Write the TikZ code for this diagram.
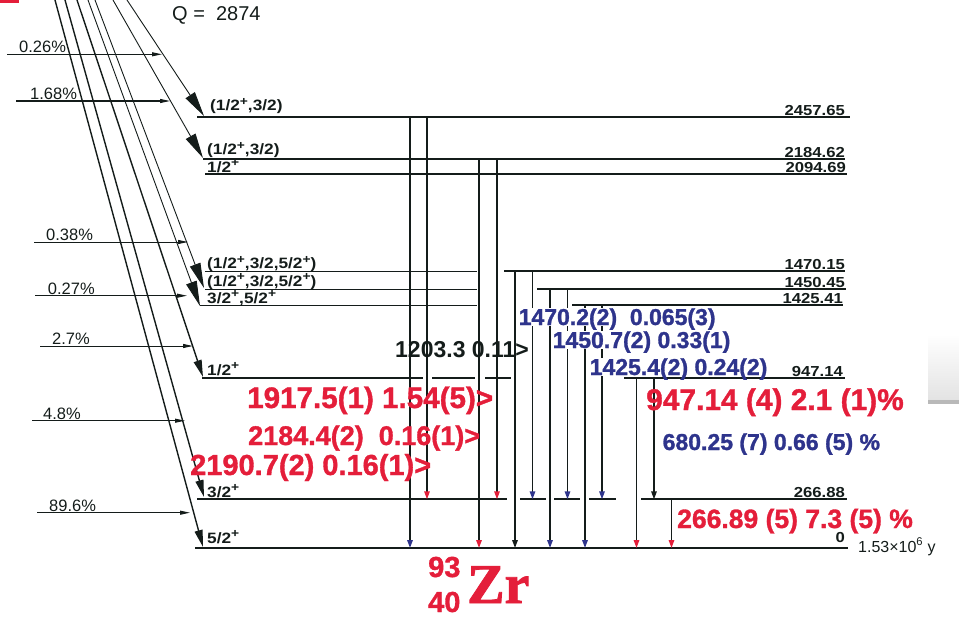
\documentclass[tikz,border=0pt]{standalone}
\usepackage{fontspec}
\setmainfont{Liberation Sans}
\newfontfamily\levelfont[FakeStretch=1.15]{Liberation Sans}
\newfontfamily\heavyfont[BoldFeatures={FakeBold=1.2}]{Liberation Sans}
\newfontfamily\nuclidefont[BoldFeatures={FakeBold=1.5}]{Liberation Serif}
\usetikzlibrary{arrows.meta}
\definecolor{trred}{RGB}{228,30,58}
\definecolor{trblue}{RGB}{46,52,140}
\definecolor{lineblack}{RGB}{20,28,26}
\newcommand\spplus{\raisebox{.36em}{\fontsize{12}{12}\selectfont+}}

\tikzset{
  level/.style={draw=lineblack, line width=1.7pt},
  thinlevel/.style={draw=lineblack, line width=0.8pt},
  feedbig/.style={draw=lineblack, line width=0.9pt, -{Triangle[length=25pt,width=11pt]}},
  feedsmall/.style={draw=lineblack, line width=1.4pt, -{Triangle[length=17pt,width=8pt]}},
  branch/.style={draw=lineblack, line width=1pt, -{Triangle[length=10pt,width=4pt]}},
  trans/.style={draw=lineblack, line width=1.5pt},
  tored/.style={trans, -{Triangle[length=8pt,width=5.5pt,color=trred]}},
  toblue/.style={trans, -{Triangle[length=8pt,width=5.5pt,color=trblue]}},
  toblack/.style={trans, -{Triangle[length=8pt,width=5.5pt]}},
  spin/.style={anchor=base west, inner sep=0pt, text=lineblack,
    font=\levelfont\bfseries\fontsize{15}{15}\selectfont},
  energy/.style={anchor=base east, inner sep=0pt, text=lineblack,
    font=\levelfont\bfseries\fontsize{14.5}{14.5}\selectfont},
  pct/.style={anchor=base west, inner sep=0pt, text=lineblack,
    font=\fontsize{16.5}{16.5}\selectfont},
  gred/.style={anchor=base west, inner sep=0pt, text depth=0pt, text=trred,
    font=\heavyfont\bfseries\fontsize{29}{29}\selectfont},
  gblue/.style={anchor=base west, inner sep=0.5pt, text depth=0pt, fill=white, text=trblue,
    font=\heavyfont\bfseries\fontsize{23}{23}\selectfont},
  gblack/.style={anchor=base west, inner sep=0pt, text=lineblack,
    font=\bfseries\fontsize{23}{23}\selectfont},
}

\begin{document}
\begin{tikzpicture}[x=1pt,y=-1pt]
    \useasboundingbox (0,0) rectangle (959,618);

    % Метки
    \fill[trred] (0,0) rectangle (19,3);
    \shade[top color=white, bottom color=gray!22] (928,334) rectangle (959,400);
    \fill[gray!55] (928,400) rectangle (959,404);

    % Уровни
    \coordinate (L2457) at (0,117);
    \coordinate (L2184) at (0,158.7);
    \coordinate (L2094) at (0,174);
    \coordinate (L1470) at (0,271);
    \coordinate (L1450) at (0,289);
    \coordinate (L1425) at (0,305);
    \coordinate (L947) at (0,378);
    \coordinate (L266) at (0,499.3);
    \coordinate (L0) at (0,548);

    \draw[level, line width=1.3pt] (197,0 |- L2457) -- (850,0 |- L2457);
    \draw[level] (203,0 |- L2184) -- (845,0 |- L2184);
    \draw[level] (205,0 |- L2094) -- (847,0 |- L2094);

    \draw[thinlevel] (205,0 |- L1470) -- (477,0 |- L1470);
    \draw[level, line width=1.5pt] (504,0 |- L1470) -- (845,0 |- L1470);
    \draw[thinlevel] (205,0 |- L1450) -- (477,0 |- L1450);
    \draw[level, line width=1.3pt] (537,0 |- L1450) -- (846,0 |- L1450);
    \draw[thinlevel] (200,0 |- L1425) -- (477,0 |- L1425);
    \draw[level, line width=1.3pt] (572,0 |- L1425) -- (843,0 |- L1425);

    \draw[level] (202,0 |- L947) -- (423,0 |- L947);
    \draw[level] (432,0 |- L947) -- (475,0 |- L947);
    \draw[level] (485,0 |- L947) -- (511,0 |- L947);
    \draw[level] (624,0 |- L947) -- (845,0 |- L947);

    \draw[level] (197,0 |- L266) -- (507,0 |- L266);
    \draw[level] (520,0 |- L266) -- (546,0 |- L266);
    \draw[level] (554,0 |- L266) -- (580,0 |- L266);
    \draw[level] (589,0 |- L266) -- (616,0 |- L266);
    \draw[level] (641,0 |- L266) -- (847,0 |- L266);

    \draw[level, line width=1.3pt] (195,0 |- L0) -- (848,0 |- L0);

    % Бета-переходы
    \coordinate (w2457) at (204,116);
    \coordinate (w2184) at (203,158);
    \coordinate (w1450) at (204,288);
    \coordinate (w1425) at (200,306);
    \coordinate (w947) at (203,377);
    \coordinate (w266) at (204,497);
    \coordinate (w0) at (203,547);
    \draw[feedbig] (127,0) -- (w2457);
    \draw[feedbig] (113,0) -- (w2184);
    \draw[feedbig] (95,0) -- (w1450);
    \draw[feedbig] (88,0) -- (w1425);
    \draw[feedsmall] (77,0) -- (w947);
    \draw[feedsmall] (65,0) -- (w266);
    \draw[feedsmall] (55,0) -- (w0);

    % Интенсивности ветвей
    \draw[branch] (7,54.3) -- (162,54.3);
    \draw[branch] (16,101) -- (170,101);
    \draw[branch] (34,242) -- (188,242);
    \draw[branch] (35,295.7) -- (187,295.7);
    \draw[branch] (40,346) -- (193,346);
    \draw[branch] (32,420.7) -- (185,420.7);
    \draw[branch] (37,512.7) -- (190,512.7);
    \node[pct] (b2457) at (19,53) {0.26\%};
    \node[pct] (b2184) at (30,99.5) {1.68\%};
    \node[pct] (b1450) at (46,240) {0.38\%};
    \node[pct] (b1425) at (47.7,294) {0.27\%};
    \node[pct] (b947) at (52,344) {2.7\%};
    \node[pct] (b266) at (43,419) {4.8\%};
    \node[pct] (b0) at (49,511) {89.6\%};

    % Гамма-переходы
    \draw[toblue] (410,0 |- L2457) -- (410,0 |- L0);
    \draw[tored] (427,0 |- L2457) -- (427,0 |- L266);
    \draw[tored] (479,0 |- L2184) -- (479,0 |- L0);
    \draw[tored] (497,0 |- L2184) -- (497,0 |- L266);
    \draw[toblack] (515,0 |- L1470) -- (515,0 |- L0);
    \draw[toblue] (532.5,0 |- L1470) -- (532.5,0 |- L266);
    \draw[toblue] (550,0 |- L1450) -- (550,0 |- L0);
    \draw[toblue] (567.5,0 |- L1450) -- (567.5,0 |- L266);
    \draw[toblue] (585,0 |- L1425) -- (585,0 |- L0);
    \draw[toblue] (602,0 |- L1425) -- (602,0 |- L266);
    \draw[tored] (636.5,0 |- L947) -- (636.5,0 |- L0);
    \draw[toblack] (654,0 |- L947) -- (654,0 |- L266);
    \draw[tored] (671.5,0 |- L266) -- (671.5,0 |- L0);

    % Спины
    \node[spin] (s2457) at (210,110.5) {(1/2\spplus,3/2)};
    \node[spin] (s2184) at (207,154.5) {(1/2\spplus,3/2)};
    \node[spin] (s2094) at (207,172) {1/2\spplus};
    \node[spin] (s1470) at (207,268.5) {(1/2\spplus,3/2,5/2\spplus)};
    \node[spin] (s1450) at (207,286) {(1/2\spplus,3/2,5/2\spplus)};
    \node[spin] (s1425) at (207,303) {3/2\spplus,5/2\spplus};
    \node[spin] (s947) at (207,375) {1/2\spplus};
    \node[spin] (s266) at (207,497) {3/2\spplus};
    \node[spin] (s0) at (207,543) {5/2\spplus};

    % Энергии уровней
    \node[energy] (e2457) at (845,115.5) {2457.65};
    \node[energy] (e2184) at (845,157) {2184.62};
    \node[energy] (e2094) at (846,172.5) {2094.69};
    \node[energy] (e1470) at (845,269.5) {1470.15};
    \node[energy] (e1450) at (845,287.5) {1450.45};
    \node[energy] (e1425) at (843,303.5) {1425.41};
    \node[energy] (e947) at (843,376) {947.14};
    \node[energy] (e266) at (845,497) {266.88};
    \node[energy] (e0) at (845,542) {0};
    \node[pct, font=\fontsize{16}{16}\selectfont] (half) at (858,552) {1.53×10\textsuperscript{6} y};

    % Подписи переходов
    \node[gblack] (g1203) at (395,357) {1203.3 0.11>};
    \node[gblue] (g1470) at (518,325) {1470.2(2) \ 0.065(3)};
    \node[gblue] (g1450) at (552,348) {1450.7(2) 0.33(1)};
    \node[gblue] (g1425) at (589,375) {1425.4(2) 0.24(2)};
    \node[gblue, fill=none] (g680) at (662,450) {680.25 (7) 0.66 (5) \%};
    \node[gred, font=\heavyfont\bfseries\fontsize{29.6}{29.6}\selectfont] (g1917) at (247,408) {1917.5(1) 1.54(5)>};
    \node[gred, font=\heavyfont\bfseries\fontsize{27}{27}\selectfont] (g2184) at (248,445) {2184.4(2) \ 0.16(1)>};
    \node[gred] (g2190) at (190,475) {2190.7(2) 0.16(1)>};
    \node[gred, font=\heavyfont\bfseries\fontsize{29.9}{29.9}\selectfont] (g947) at (646,410) {947.14 (4) 2.1 (1)\%};
    \node[gred, font=\heavyfont\bfseries\fontsize{26.5}{26.5}\selectfont] (g266) at (677,528) {266.89 (5) 7.3 (5) \%};

    % Q и нуклид
    \node[pct, font=\fontsize{20}{20}\selectfont] (qval) at (172,21) {Q = \ 2874};
    \node[gred] (mass) at (428,577) {93};
    \node[gred] (charge) at (428,612) {40};
    \node[anchor=base west, inner sep=0pt, text=trred,
      font=\nuclidefont\bfseries\fontsize{56}{56}\selectfont] (zr) at (467,603) {Zr};
\end{tikzpicture}
\end{document}
